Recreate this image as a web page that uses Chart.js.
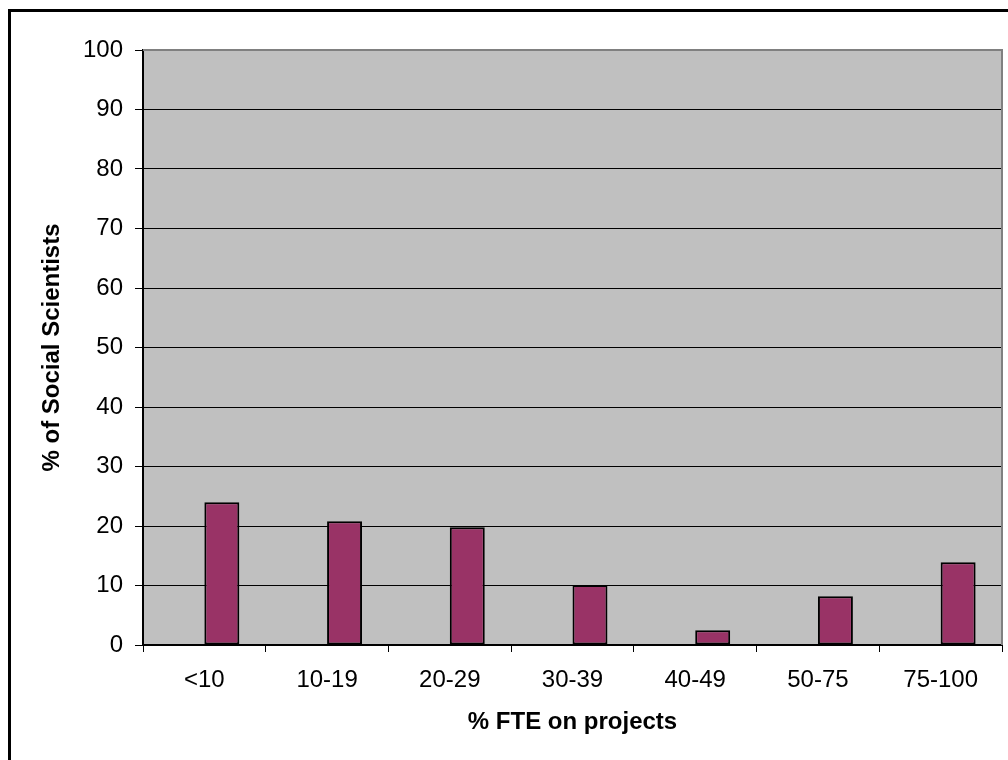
<!DOCTYPE html>
<html>
<head>
<meta charset="utf-8">
<title>% FTE on projects</title>
<script src="https://cdn.jsdelivr.net/npm/chart.js@4.4.1/dist/chart.umd.min.js"></script>
<style>
  html, body { margin: 0; padding: 0; background: #fff; }
  canvas { display: block; }
</style>
</head>
<body>
<canvas id="fte-chart" width="1008" height="760"></canvas>
<script>
// categories and values
const fteBands = ["<10", "10-19", "20-29", "30-39", "40-49", "50-75", "75-100"];
const pctScientists = [24, 20.8, 19.8, 10.1, 2.5, 8.2, 13.9];
const yTicks = [0, 10, 20, 30, 40, 50, 60, 70, 80, 90, 100];

const FONT = "'Liberation Sans', Arial, Helvetica, sans-serif";

// grey plot area, its border, and the outer frame
const plotBackground = {
    id: "plotBackground",
    beforeDraw(chart) {
        const { ctx, chartArea: a } = chart;
        ctx.save();
        ctx.fillStyle = "#fff";
        ctx.fillRect(0, 0, chart.width, chart.height);
        ctx.fillStyle = "#c0c0c0";
        ctx.fillRect(a.left, a.top, a.right - a.left, a.bottom - a.top);
        ctx.lineWidth = 3;
        ctx.strokeStyle = "#000";
        ctx.strokeRect(9.5, 10.5, chart.width + 20, chart.height + 20);
        ctx.restore();
    },
    beforeDatasetsDraw(chart) {
        const { ctx, chartArea: a } = chart;
        ctx.save();
        ctx.strokeStyle = "#808080";
        ctx.lineWidth = 2;
        ctx.beginPath();
        ctx.moveTo(a.left, a.top);
        ctx.lineTo(a.right, a.top);
        ctx.lineTo(a.right, a.bottom);
        ctx.stroke();
        ctx.restore();
    }
};

new Chart(document.getElementById("fte-chart"), {
    type: "bar",
    data: {
        labels: fteBands,
        datasets: [
            // empty first series, keeps the bars in the right half of each slot
            { label: "", data: [], backgroundColor: "transparent", borderWidth: 0 },
            {
                label: "% of Social Scientists",
                data: pctScientists,
                backgroundColor: "#993366",
                borderColor: "#000",
                borderWidth: 2,
                borderSkipped: false
            }
        ]
    },
    options: {
        responsive: false,
        animation: false,
        events: [],
        categoryPercentage: 0.57,
        barPercentage: 1,
        layout: { padding: { top: 50, right: 6, left: 0, bottom: 0 } },
        plugins: {
            legend: { display: false },
            tooltip: { enabled: false },
            title: { display: false }
        },
        scales: {
            x: {
                afterFit(scale) { scale.height = 115; },
                grid: {
                    offset: true,
                    drawOnChartArea: false,
                    color: "#000",
                    tickLength: 7
                },
                border: { color: "#000", width: 2 },
                ticks: {
                    color: "#000",
                    padding: 14,
                    font: { family: FONT, size: 24 }
                },
                title: {
                    display: true,
                    text: "% FTE on projects",
                    color: "#000",
                    padding: { top: 0, bottom: 23.6 },
                    font: { family: FONT, size: 24, weight: "bold" }
                }
            },
            y: {
                min: 0,
                max: 100,
                afterFit(scale) { scale.width = 143; },
                afterBuildTicks(scale) {
                    scale.ticks = yTicks.map(v => ({ value: v }));
                },
                grid: {
                    color: "#000",
                    lineWidth: 1,
                    tickLength: 8,
                    tickColor: "#000"
                },
                border: { color: "#000", width: 2 },
                ticks: {
                    color: "#000",
                    padding: 12,
                    font: { family: FONT, size: 24 }
                },
                title: {
                    display: true,
                    text: "% of Social Scientists",
                    color: "#000",
                    padding: { top: 37.6, bottom: 0 },
                    font: { family: FONT, size: 24, weight: "bold" }
                }
            }
        }
    },
    plugins: [plotBackground]
});
</script>
</body>
</html>
